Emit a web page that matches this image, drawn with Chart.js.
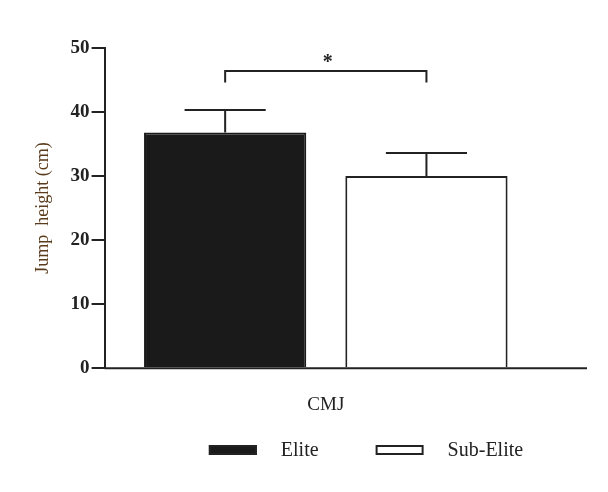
<!DOCTYPE html>
<html>
<head>
<meta charset="utf-8">
<script src="https://cdn.jsdelivr.net/npm/chart.js@4"></script>
<style>
  html,body{margin:0;padding:0;background:#fff;}
  #wrap{width:608px;height:492px;}
</style>
</head>
<body>
<div id="wrap"><canvas id="myChart"></canvas></div>
<script>
const categories=['CMJ'];
const seriesNames=['Elite','Sub-Elite'];
const eliteMean=[36.8];
const eliteSD=[3.5];
const subEliteMean=[30.0];
const subEliteSD=[3.6];
const yTicks=[0,10,20,30,40,50];
// significance bracket (in y units)
const bracketTop=[46.4];
const bracketLeg=[44.6];
const sigMark=['*'];

const ink='#222222';
const serif='"Liberation Serif", "Times New Roman", serif';

// error bars, bracket, baseline and legend
const extras={
  id:'extras',
  afterDatasetsDraw(chart){
    const ctx=chart.ctx;
    const y=chart.scales.y;
    const area=chart.chartArea;
    const sds=[eliteSD,subEliteSD];
    const means=[eliteMean,subEliteMean];
    ctx.save();
    ctx.strokeStyle=ink;
    ctx.lineWidth=2;
    // x baseline, runs a bit past the bars
    ctx.beginPath();
    ctx.moveTo(area.left,y.getPixelForValue(0));
    ctx.lineTo(area.right+40,y.getPixelForValue(0));
    ctx.stroke();
    chart.data.datasets.forEach((ds,d)=>{
      const meta=chart.getDatasetMeta(d);
      meta.data.forEach((bar,i)=>{
        const top=y.getPixelForValue(means[d][i]);
        const hi=y.getPixelForValue(means[d][i]+sds[d][i]);
        const half=bar.width/4;
        ctx.beginPath();
        ctx.moveTo(bar.x,top);
        ctx.lineTo(bar.x,hi);
        ctx.moveTo(bar.x-half,hi);
        ctx.lineTo(bar.x+half,hi);
        ctx.stroke();
      });
    });
    // bracket
    const b0=chart.getDatasetMeta(0).data[0];
    const b1=chart.getDatasetMeta(1).data[0];
    const yt=y.getPixelForValue(bracketTop[0]);
    const yl=y.getPixelForValue(bracketLeg[0]);
    ctx.beginPath();
    ctx.moveTo(b0.x,yl);
    ctx.lineTo(b0.x,yt);
    ctx.lineTo(b1.x,yt);
    ctx.lineTo(b1.x,yl);
    ctx.stroke();
    ctx.fillStyle=ink;
    ctx.font='bold 20px '+serif;
    ctx.textAlign='center';
    ctx.textBaseline='bottom';
    ctx.fillText(sigMark[0],(b0.x+b1.x)/2+2,yt+2);
    // legend
    ctx.font='20px '+serif;
    ctx.textBaseline='middle';
    ctx.textAlign='left';
    const boxW=48,boxH=10,gap=24,spacing=57;
    const widths=seriesNames.map(n=>boxW+gap+ctx.measureText(n).width);
    const total=widths.reduce((a,b)=>a+b,0)+spacing*(widths.length-1);
    let lx=366-total/2;
    const ly=450;
    chart.data.datasets.forEach((ds,d)=>{
      ctx.fillStyle=ds.backgroundColor;
      ctx.fillRect(lx,ly-boxH/2,boxW,boxH);
      ctx.strokeStyle=ink;
      ctx.lineWidth=2;
      ctx.strokeRect(lx+1,ly-boxH/2+1,boxW-2,boxH-2);
      ctx.fillStyle=ink;
      ctx.fillText(ds.label,lx+boxW+gap,ly+1);
      lx+=widths[d]+spacing;
    });
    ctx.restore();
  }
};

const myChart=new Chart(document.getElementById('myChart'),{
  type:'bar',
  data:{
    labels:categories,
    datasets:[
      {label:seriesNames[0],data:eliteMean,backgroundColor:'#1a1a1a',borderColor:'#1a1a1a',borderWidth:2},
      {label:seriesNames[1],data:subEliteMean,backgroundColor:'#ffffff',borderColor:ink,borderWidth:2}
    ]
  },
  plugins:[extras],
  options:{
    responsive:true,
    maintainAspectRatio:false,
    animation:false,
    categoryPercentage:0.91,
    barPercentage:0.806,
    layout:{padding:{top:48,right:61,bottom:59,left:32}},
    plugins:{
      legend:{display:false},
      tooltip:{enabled:false}
    },
    scales:{
      x:{
        grid:{display:false},
        border:{display:false},
        ticks:{color:ink,padding:17,font:{family:serif,size:19}}
      },
      y:{
        min:0,max:50,
        afterBuildTicks(scale){scale.ticks=yTicks.map(v=>({value:v}));},
        grid:{drawOnChartArea:false,tickLength:13,color:ink,lineWidth:2},
        border:{color:ink,width:2},
        ticks:{color:ink,padding:2,font:{family:serif,size:19,weight:'bold'}},
        title:{display:true,text:'Jump  height (cm)',color:'#5a3b1c',padding:{top:0,bottom:15},font:{family:serif,size:18}}
      }
    }
  }
});
</script>
</body>
</html>
